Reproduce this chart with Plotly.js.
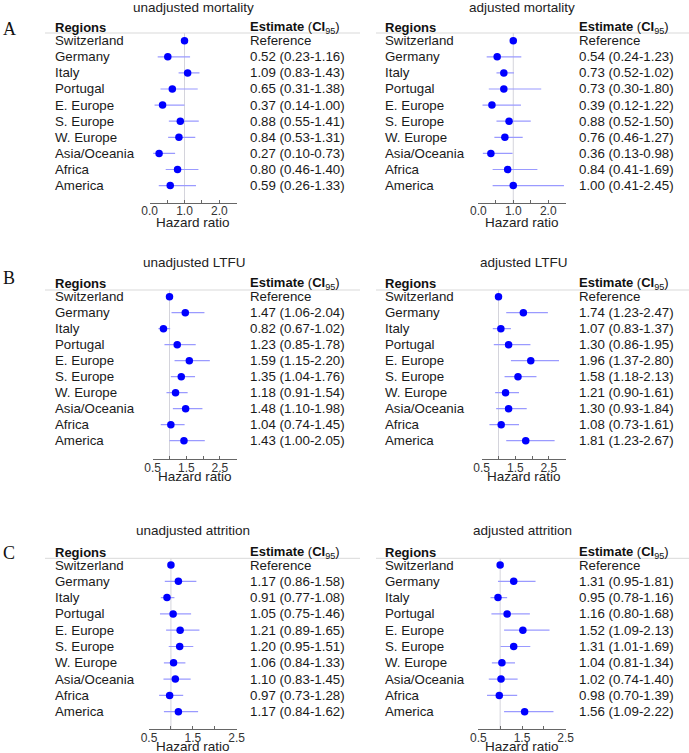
<!DOCTYPE html>
<html>
<head>
<meta charset="utf-8">
<script src="https://cdn.plot.ly/plotly-3.0.1.min.js"></script>
<style>html,body{margin:0;padding:0;background:#fff;}#chart{width:689px;height:753px;}</style>
</head>
<body>
<div id="chart"></div>
<script>
// ---------------- DATA ----------------
const regions = ["Switzerland","Germany","Italy","Portugal","E. Europe","S. Europe","W. Europe","Asia/Oceania","Africa","America"];

const unadjMortEst = [1.00,0.52,1.09,0.65,0.37,0.88,0.84,0.27,0.80,0.59];
const unadjMortLo  = [null,0.23,0.83,0.31,0.14,0.55,0.53,0.10,0.46,0.26];
const unadjMortHi  = [null,1.16,1.43,1.38,1.00,1.41,1.31,0.73,1.40,1.33];

const adjMortEst = [1.00,0.54,0.73,0.73,0.39,0.88,0.76,0.36,0.84,1.00];
const adjMortLo  = [null,0.24,0.52,0.30,0.12,0.52,0.46,0.13,0.41,0.41];
const adjMortHi  = [null,1.23,1.02,1.80,1.22,1.50,1.27,0.98,1.69,2.45];

const unadjLtfuEst = [1.00,1.47,0.82,1.23,1.59,1.35,1.18,1.48,1.04,1.43];
const unadjLtfuLo  = [null,1.06,0.67,0.85,1.15,1.04,0.91,1.10,0.74,1.00];
const unadjLtfuHi  = [null,2.04,1.02,1.78,2.20,1.76,1.54,1.98,1.45,2.05];

const adjLtfuEst = [1.00,1.74,1.07,1.30,1.96,1.58,1.21,1.30,1.08,1.81];
const adjLtfuLo  = [null,1.23,0.83,0.86,1.37,1.18,0.90,0.93,0.73,1.23];
const adjLtfuHi  = [null,2.47,1.37,1.95,2.80,2.13,1.61,1.84,1.61,2.67];

const unadjAttrEst = [1.00,1.17,0.91,1.05,1.21,1.20,1.06,1.10,0.97,1.17];
const unadjAttrLo  = [null,0.86,0.77,0.75,0.89,0.95,0.84,0.83,0.73,0.84];
const unadjAttrHi  = [null,1.58,1.08,1.46,1.65,1.51,1.33,1.45,1.28,1.62];

const adjAttrEst = [1.00,1.31,0.95,1.16,1.52,1.31,1.04,1.02,0.98,1.56];
const adjAttrLo  = [null,0.95,0.78,0.80,1.09,1.01,0.81,0.74,0.70,1.09];
const adjAttrHi  = [null,1.81,1.16,1.68,2.13,1.69,1.34,1.40,1.39,2.22];

const mortTickVals = [0,1,2];
const mortTickText = ["0.0","1.0","2.0"];
const mortMinorVals = [0.5,1.5,2.5];
const ltfuTickVals = [0.5,1.5,2.5];
const ltfuTickText = ["0.5","1.5","2.5"];
const ltfuMinorVals = [1,2,3];
const attrTickVals = [0.5,1.5,2.5];
const attrTickText = ["0.5","1.5","2.5"];
const attrMinorVals = [1,2];

const panelTitles = ["unadjusted mortality","adjusted mortality","unadjusted LTFU","adjusted LTFU","unadjusted attrition","adjusted attrition"];
const panelLetters = ["A","B","C"];
const referenceLabel = "Reference";
const xTitle = "Hazard ratio";
const regionsHeader = "<b>Regions</b>";
const estimateHeader = "<b>Estimate</b> (<b>CI</b><sub>95</sub>)";

// ---------------- GEOMETRY (pixels) ----------------
const W = 689, H = 753;
const FONT = "Liberation Sans, Arial, sans-serif";
const rowsGeo = [
  {row0:40.7, step:16.1, hdr:33,    axis:203,   title:7.5,   haz:222.5, letter:29},
  {row0:296.7,step:16.0, hdr:290,   axis:459.3, title:262.7, haz:476,   letter:278},
  {row0:565,  step:16.3, hdr:558.3, axis:729.3, title:530,   haz:746,   letter:553}
];
const colsGeo = [
  {nameX:52.7, estX:248.3, line:[45,360]},
  {nameX:383.3, estX:577.3, line:[376,689]}
];
const axisPx = [
  [[149.7,236.7],[478.3,565.7]],
  [[152.7,236.7],[481.7,565.7]],
  [[149.0,236.7],[478.3,565.7]]
];

const panels = [
  {est:unadjMortEst, lo:unadjMortLo, hi:unadjMortHi, tv:mortTickVals, tt:mortTickText, mv:mortMinorVals, range:[0,2.5]},
  {est:adjMortEst,   lo:adjMortLo,   hi:adjMortHi,   tv:mortTickVals, tt:mortTickText, mv:mortMinorVals, range:[0,2.5]},
  {est:unadjLtfuEst, lo:unadjLtfuLo, hi:unadjLtfuHi, tv:ltfuTickVals, tt:ltfuTickText, mv:ltfuMinorVals, range:[0.5,3]},
  {est:adjLtfuEst,   lo:adjLtfuLo,   hi:adjLtfuHi,   tv:ltfuTickVals, tt:ltfuTickText, mv:ltfuMinorVals, range:[0.5,3]},
  {est:unadjAttrEst, lo:unadjAttrLo, hi:unadjAttrHi, tv:attrTickVals, tt:attrTickText, mv:attrMinorVals, range:[0.5,2.5]},
  {est:adjAttrEst,   lo:adjAttrLo,   hi:adjAttrHi,   tv:attrTickVals, tt:attrTickText, mv:attrMinorVals, range:[0.5,2.5]}
];

const traces = [];
const layout = {
  width: W, height: H,
  margin: {l:0, r:0, t:0, b:0},
  paper_bgcolor: "#fff", plot_bgcolor: "rgba(0,0,0,0)",
  showlegend: false,
  font: {family: FONT, color: "#1a1a1a", size: 13},
  annotations: [], shapes: []
};
const px2x = p => p / W;
const py2y = p => 1 - p / H;

panels.forEach((p, i) => {
  const r = Math.floor(i / 2), c = i % 2;
  const g = rowsGeo[r], cg = colsGeo[c], ap = axisPx[r][c];
  const n = i + 1;
  const xa = n === 1 ? "x" : "x" + n, ya = n === 1 ? "y" : "y" + n;
  const xk = n === 1 ? "xaxis" : "xaxis" + n, yk = n === 1 ? "yaxis" : "yaxis" + n;
  const toRow = py => (py - g.row0) / g.step;

  const rowIdx = regions.map((_, k) => k);
  traces.push({
    type: "scatter", mode: "markers", xaxis: xa, yaxis: ya,
    x: p.est, y: rowIdx,
    marker: {color: "#0000ff", size: 7.5},
    error_x: {
      type: "data", symmetric: false,
      array: p.est.map((e, k) => p.hi[k] == null ? 0 : p.hi[k] - e),
      arrayminus: p.est.map((e, k) => p.lo[k] == null ? 0 : e - p.lo[k]),
      color: "#9a9aff", thickness: 1.2, width: 0
    },
    hoverinfo: "skip", cliponaxis: false
  });

  layout[xk] = {
    domain: [px2x(ap[0]), px2x(ap[1])], range: p.range, anchor: ya,
    showgrid: false, zeroline: false, showline: true, linecolor: "#666", linewidth: 1,
    ticks: "inside", ticklen: 3, tickcolor: "#666", tickwidth: 1,
    tickmode: "array", tickvals: p.tv, ticktext: p.tt,
    minor: {tickmode: "array", tickvals: p.mv, ticks: "inside", ticklen: 3, tickcolor: "#666", tickwidth: 1, showgrid: false},
    tickfont: {family: FONT, size: 12, color: "#333"}, ticklabelstandoff: -3,
    fixedrange: true
  };
  layout[yk] = {
    domain: [py2y(g.axis), py2y(g.hdr)], range: [toRow(g.axis), toRow(g.hdr)],
    anchor: xa, visible: false, showgrid: false, zeroline: false, fixedrange: true
  };

  // reference line at HR = 1
  layout.shapes.push({type: "line", xref: xa, yref: ya + " domain", x0: 1, x1: 1, y0: 0, y1: 1,
    line: {color: "#d4d4dc", width: 1}, layer: "below"});
  // header rule
  layout.shapes.push({type: "line", xref: "paper", yref: ya + " domain",
    x0: px2x(cg.line[0]), x1: px2x(cg.line[1]), y0: 1, y1: 1,
    line: {color: "#d9d9d9", width: 1}, layer: "below"});

  // title
  layout.annotations.push({text: panelTitles[i], xref: xa + " domain", x: 0.5, xanchor: "center",
    yref: "paper", y: py2y(g.title), yanchor: "middle", showarrow: false,
    font: {family: FONT, size: 13.5, color: "#222"}});
  // x title
  layout.annotations.push({text: xTitle, xref: xa + " domain", x: 0.5, xanchor: "center",
    yref: "paper", y: py2y(g.haz), yanchor: "middle", showarrow: false,
    font: {family: FONT, size: 13.5, color: "#222"}});
  // headers
  const hdrY = py2y(g.row0 - 12.8);
  layout.annotations.push({text: regionsHeader, xref: "paper", x: px2x(cg.nameX), xanchor: "left",
    yref: "paper", y: hdrY, yanchor: "middle", showarrow: false, font: {family: FONT, size: 13, color: "#111"}});
  layout.annotations.push({text: estimateHeader, xref: "paper", x: px2x(cg.estX), xanchor: "left",
    yref: "paper", y: hdrY, yanchor: "middle", showarrow: false, font: {family: FONT, size: 13, color: "#111"}});
  // rows
  regions.forEach((name, k) => {
    layout.annotations.push({text: name, xref: "paper", x: px2x(cg.nameX), xanchor: "left",
      yref: ya, y: k, yanchor: "middle", showarrow: false, font: {family: FONT, size: 13.3, color: "#1a1a1a"}});
    const est = p.lo[k] == null ? referenceLabel :
      p.est[k].toFixed(2) + " (" + p.lo[k].toFixed(2) + "-" + p.hi[k].toFixed(2) + ")";
    layout.annotations.push({text: est, xref: "paper", x: px2x(cg.estX), xanchor: "left",
      yref: ya, y: k, yanchor: "middle", showarrow: false, font: {family: FONT, size: 13.3, color: "#1a1a1a"}});
  });
});

rowsGeo.forEach((g, r) => {
  layout.annotations.push({text: panelLetters[r], xref: "paper", x: px2x(9), xanchor: "center",
    yref: "paper", y: py2y(g.letter), yanchor: "middle", showarrow: false,
    font: {family: "Liberation Serif, Times New Roman, serif", size: 18, color: "#111"}});
});

Plotly.newPlot("chart", traces, layout, {staticPlot: true, displayModeBar: false});
</script>
</body>
</html>
